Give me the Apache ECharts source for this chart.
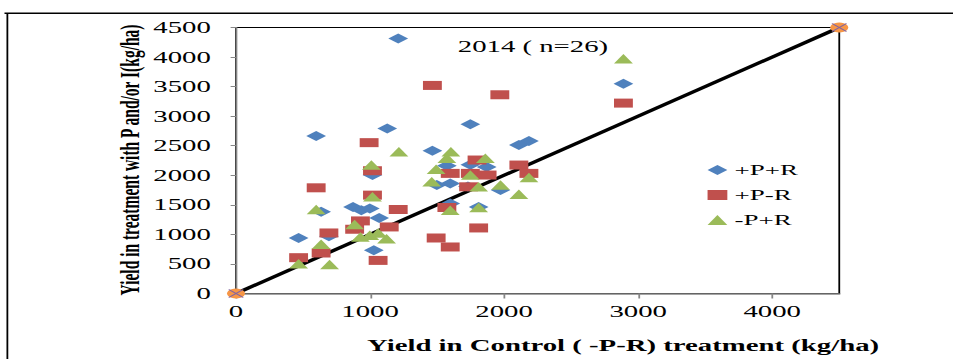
<!DOCTYPE html>
<html><head><meta charset="utf-8">
<script src="https://cdn.jsdelivr.net/npm/echarts@6/dist/echarts.min.js"></script>
<style>
html,body{margin:0;padding:0;background:#fff;overflow:hidden;width:953px;height:359px}
#wrap{position:absolute;left:0;top:0;width:953px;height:359px;overflow:hidden}
#chart{position:absolute;left:0;top:0;width:530px;height:359px;transform:scaleX(1.79811);transform-origin:0 0}
</style></head><body>
<div id="wrap"><div id="chart"></div></div>
<script>
// ---- data ----
const chartTitle = '2014 ( n=26)';
const xAxisTitle = 'Yield in Control ( -P-R) treatment (kg/ha)';
const yAxisTitle = 'Yield in treatment with P and/or I(kg/ha)';
const seriesNames = ['+P+R', '+P-R', '-P+R'];
const xTickLabels = ['0', '1000', '2000', '3000', '4000'];
const yTickLabels = ['0', '500', '1000', '1500', '2000', '2500', '3000', '3500', '4000', '4500'];
const ppr = [[1210,4313],[2890,3549],[1748,2864],[1128,2790],[598,2666],[2185,2581],[2110,2513],[1465,2416],[1748,2180],[1573,2162],[1870,2140],[1018,2004],[1598,1862],[1498,1834],[1973,1749],[1598,1523],[1810,1465],[873,1465],[935,1409],[998,1438],[635,1381],[1068,1279],[467,939],[693,968],[1028,730],[1730,1810]];
const pmr = [[1465,3520],[1968,3362],[2890,3221],[993,2552],[1798,2258],[2110,2173],[1018,2077],[1598,2032],[1748,2032],[1873,2004],[2185,2032],[1735,1805],[598,1788],[1018,1664],[1573,1455],[1210,1421],[928,1228],[885,1087],[1143,1126],[693,1024],[1810,1109],[1493,939],[1598,787],[635,685],[467,606],[1060,560]];
const mpr = [[2890,3973],[1215,2400],[1603,2400],[1573,2287],[1860,2287],[1010,2173],[1493,2100],[1748,2004],[2185,1964],[1460,1890],[1973,1834],[1810,1805],[2110,1681],[1018,1635],[598,1421],[1598,1409],[1810,1455],[885,1166],[1060,1024],[998,985],[928,956],[1123,928],[635,832],[467,504],[698,492]];
const oneToOne = [[0,0],[4500,4500]];

const FONT = '"Liberation Serif", "Times New Roman", serif';
const chart = echarts.init(document.getElementById('chart'), null, {renderer: 'svg', width: 530, height: 359});

chart.setOption({
  animation: false,
  backgroundColor: '#fff',
  title: {
    text: chartTitle, left: 296.4, top: 38, padding: 0, textAlign: 'center',
    textStyle: {fontFamily: FONT, fontSize: 16, fontWeight: 'normal', color: '#000'}
  },
  legend: {
    orient: 'vertical', left: 393.5, top: 162.5, padding: 0, itemGap: 10,
    itemWidth: 11, itemHeight: 10, itemStyle: {borderWidth: 0, opacity: 1},
    data: seriesNames,
    textStyle: {fontFamily: FONT, fontSize: 15, color: '#000', padding: [0,0,0,-1]}
  },
  grid: {left: 131.25, right: 63.25, top: 27.5, bottom: 65.5, show: true, borderColor: '#000', borderWidth: 1, backgroundColor: 'transparent'},
  xAxis: {
    type: 'value', min: 0, max: 4500, interval: 1000,
    axisLine: {show: true, onZero: false, lineStyle: {color: '#868686', width: 1.5}},
    axisTick: {show: true, length: 5, lineStyle: {color: '#868686', width: 1}},
    splitLine: {show: false},
    axisLabel: {
      margin: 10, showMaxLabel: false, fontFamily: FONT, fontSize: 16, color: '#000',
      formatter: v => { const s = String(v); return xTickLabels.includes(s) ? s : ''; }
    }
  },
  yAxis: {
    type: 'value', min: 0, max: 4500, interval: 500,
    axisLine: {show: true, onZero: false, lineStyle: {color: '#868686', width: 1}},
    axisTick: {show: true, length: 3, lineStyle: {color: '#868686', width: 1}},
    splitLine: {show: false},
    axisLabel: {
      margin: 14, fontFamily: FONT, fontSize: 16, color: '#000',
      formatter: v => { const s = String(v); return yTickLabels.includes(s) ? s : ''; }
    }
  },
  series: [
    {name: '1:1', type: 'line', data: oneToOne, symbol: 'none', lineStyle: {color: '#000', width: 3}, z: 1, silent: true},
    {name: seriesNames[0], type: 'scatter', data: ppr, symbol: 'diamond', symbolSize: [11, 10], itemStyle: {color: '#4F81BD', opacity: 1}, z: 2},
    {name: seriesNames[1], type: 'scatter', data: pmr, symbol: 'rect', symbolSize: [10.5, 9], itemStyle: {color: '#C0504D', opacity: 1}, z: 3},
    {name: seriesNames[2], type: 'scatter', data: mpr, symbol: 'triangle', symbolSize: [10.5, 9.5], itemStyle: {color: '#9BBB59', opacity: 1}, z: 4},
    {name: 'ends', type: 'scatter', data: oneToOne, symbol: 'circle', symbolSize: 10, itemStyle: {color: '#F79646', opacity: 1}, z: 5, silent: true},
    {name: 'endsX', type: 'scatter', data: oneToOne, symbol: 'path://M0 0L10 10M10 0L0 10', symbolSize: 8, itemStyle: {color: 'none', borderColor: '#8064A2', borderWidth: 1, opacity: 1}, z: 6, silent: true}
  ],
  graphic: [
    {type: 'line', shape: {x1: 2.5, y1: 13.3, x2: 530, y2: 13.3}, style: {stroke: '#000', lineWidth: 1.5}},
    {type: 'line', shape: {x1: 4.1, y1: 13.3, x2: 4.1, y2: 359}, style: {stroke: '#000', lineWidth: 1}},
    {type: 'text', x: 72, y: 160, rotation: Math.PI / 2,
     style: {text: yAxisTitle, font: 'bold 15.5px ' + FONT, fill: '#000', textAlign: 'center', textVerticalAlign: 'middle'}},
    {type: 'text', x: 346.5, y: 346,
     style: {text: xAxisTitle, font: 'bold 16px ' + FONT, fill: '#000', textAlign: 'center', textVerticalAlign: 'middle'}}
  ]
});
</script>
</body></html>
